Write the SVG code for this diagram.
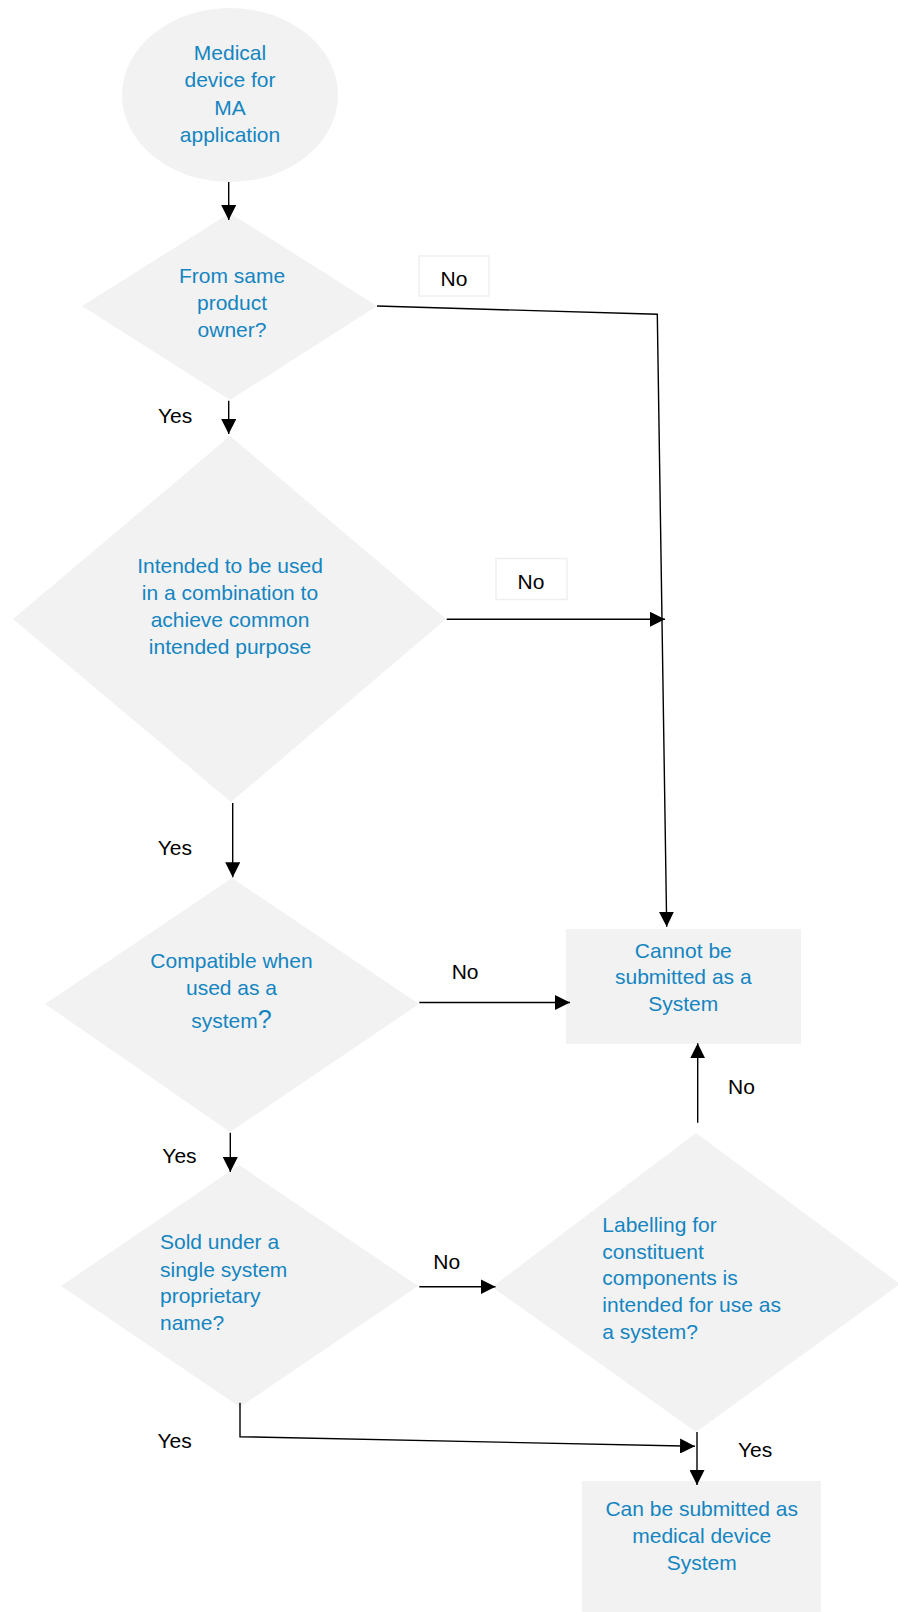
<svg xmlns="http://www.w3.org/2000/svg" width="898" height="1612" viewBox="0 0 898 1612">
<defs>
<style>
.shape{fill:#f2f2f2;stroke:none}
.t{font-family:"Liberation Sans",Arial,sans-serif;font-size:21px;fill:#1485c1}
.c{text-anchor:middle}
.lbl{font-family:"Liberation Sans",Arial,sans-serif;font-size:21px;fill:#000}
.conn{fill:none;stroke:#000;stroke-width:1.4}
.lblbox{fill:#fff;stroke:#efefef;stroke-width:1.5}
</style>
<marker id="ah" viewBox="0 0 15 15" refX="15" refY="7.5" markerWidth="15" markerHeight="15" markerUnits="userSpaceOnUse" orient="auto">
<path d="M0,0 L15,7.5 L0,15 Z" fill="#000"/>
</marker>
</defs>
<rect width="898" height="1612" fill="#fff"/>

<g id="start">
<ellipse class="shape" cx="230" cy="95" rx="108" ry="87"/>
<text class="t c" x="230" y="60">Medical</text>
<text class="t c" x="230" y="87.3">device for</text>
<text class="t c" x="230" y="114.6">MA</text>
<text class="t c" x="230" y="141.9">application</text>
</g>

<g id="q-owner">
<polygon class="shape" points="230,213 377,306 230,400 82,306"/>
<text class="t c" x="232" y="282.7">From same</text>
<text class="t c" x="232" y="310">product</text>
<text class="t c" x="232" y="337">owner?</text>
</g>

<g id="q-combination">
<polygon class="shape" points="230,436 446,619 231,802 13,619"/>
<text class="t c" x="230" y="572.7">Intended to be used</text>
<text class="t c" x="230" y="600">in a combination to</text>
<text class="t c" x="230" y="627.3">achieve common</text>
<text class="t c" x="230" y="654">intended purpose</text>
</g>

<g id="q-compatible">
<polygon class="shape" points="232,878 419,1004 230,1132 45,1004"/>
<text class="t c" x="231.5" y="968.3">Compatible when</text>
<text class="t c" x="231.5" y="995">used as a</text>
<text class="t c" x="231.5" y="1028.3">system<tspan font-size="25">?</tspan></text>
</g>

<g id="cannot">
<rect class="shape" x="566" y="929" width="235" height="115"/>
<text class="t c" x="683.3" y="957.7">Cannot be</text>
<text class="t c" x="683.3" y="984.3">submitted as a</text>
<text class="t c" x="683.3" y="1011">System</text>
</g>

<g id="q-sold">
<polygon class="shape" points="239,1165 418,1286 240,1407 61,1286"/>
<text class="t" x="160" y="1249.3">Sold under a</text>
<text class="t" x="160" y="1276.7">single system</text>
<text class="t" x="160" y="1303.3">proprietary</text>
<text class="t" x="160" y="1330">name?</text>
</g>

<g id="q-labelling">
<polygon class="shape" points="696,1133 900,1284 696,1432 492,1287"/>
<text class="t" x="602.3" y="1231.7">Labelling for</text>
<text class="t" x="602.3" y="1259">constituent</text>
<text class="t" x="602.3" y="1285.3">components is</text>
<text class="t" x="602.3" y="1312.3">intended for use as</text>
<text class="t" x="602.3" y="1339.3">a system?</text>
</g>

<g id="can">
<rect class="shape" x="582" y="1481" width="239" height="140"/>
<text class="t c" x="701.7" y="1515.7">Can be submitted as</text>
<text class="t c" x="701.7" y="1542.7">medical device</text>
<text class="t c" x="701.7" y="1570">System</text>
</g>

<g id="connectors">
<path class="conn" d="M228.7,182 L228.7,220" marker-end="url(#ah)"/>
<path class="conn" d="M377,306 L657.3,314.3 L666.7,926.7" marker-end="url(#ah)"/>
<path class="conn" d="M228.7,400.7 L228.7,434" marker-end="url(#ah)"/>
<path class="conn" d="M446.7,619.3 L665,619.3" marker-end="url(#ah)"/>
<path class="conn" d="M232.7,803 L232.7,877.3" marker-end="url(#ah)"/>
<path class="conn" d="M419.3,1002.5 L570,1002.5" marker-end="url(#ah)"/>
<path class="conn" d="M230.3,1132.7 L230.3,1172" marker-end="url(#ah)"/>
<path class="conn" d="M419.3,1286.7 L495.5,1286.7" marker-end="url(#ah)"/>
<path class="conn" d="M697.7,1122.7 L697.7,1043.3" marker-end="url(#ah)"/>
<path class="conn" d="M240,1402.7 L240,1436.7 L695,1446.3" marker-end="url(#ah)"/>
<path class="conn" d="M697,1432 L697,1485" marker-end="url(#ah)"/>
</g>

<g id="labels">
<rect class="lblbox" x="419" y="256" width="70" height="40"/>
<text class="lbl c" x="454" y="286">No</text>
<rect class="lblbox" x="496" y="558.5" width="71" height="41"/>
<text class="lbl c" x="531" y="589">No</text>
<text class="lbl" x="158" y="423.3">Yes</text>
<text class="lbl" x="157.7" y="855">Yes</text>
<text class="lbl" x="451.7" y="979">No</text>
<text class="lbl" x="162.3" y="1163.3">Yes</text>
<text class="lbl" x="728" y="1094.3">No</text>
<text class="lbl" x="433.3" y="1269.3">No</text>
<text class="lbl" x="157.5" y="1448.3">Yes</text>
<text class="lbl" x="738" y="1456.5">Yes</text>
</g>
</svg>
